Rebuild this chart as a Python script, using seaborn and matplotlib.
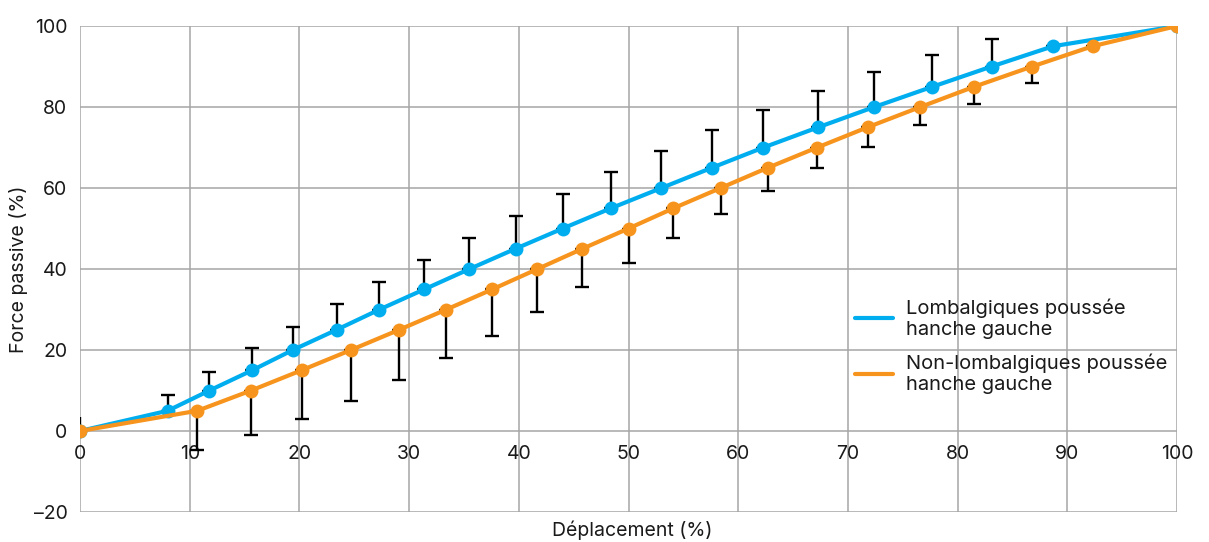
import numpy as np
import pandas as pd
import matplotlib
matplotlib.use("Agg")
import matplotlib.pyplot as plt
import seaborn as sns

# ---- data ----
x_lomb = [0, 8.0, 11.8, 15.7, 19.4, 23.4, 27.3, 31.4, 35.5, 39.7, 44.0, 48.4,
          53.0, 57.6, 62.3, 67.3, 72.4, 77.7, 83.1, 88.7, 100]
y_lomb = [0, 5, 10, 15, 20, 25, 30, 35, 40, 45, 50, 55, 60, 65, 70, 75, 80,
          85, 90, 95, 100]
top_lomb = [3.5, 9.0, 14.6, 20.5, 25.7, 31.3, 36.8, 42.2, 47.6, 53.1, 58.5,
            64.0, 69.1, 74.3, 79.3, 84.0, 88.6, 92.8, 96.8, np.nan, np.nan]

x_non = [0, 10.7, 15.6, 20.2, 24.7, 29.1, 33.4, 37.6, 41.7, 45.8, 50.0, 54.1,
         58.4, 62.7, 67.2, 71.8, 76.6, 81.5, 86.8, 92.3, 100]
y_non = [0, 5, 10, 15, 20, 25, 30, 35, 40, 45, 50, 55, 60, 65, 70, 75, 80,
         85, 90, 95, 100]
bot_non = [np.nan, -4.7, -1.0, 3.0, 7.4, 12.6, 18.0, 23.5, 29.4, 35.5, 41.5,
           47.6, 53.6, 59.3, 64.9, 70.2, 75.5, 80.7, 85.9, np.nan, np.nan]

labels = ["Lombalgiques poussée\nhanche gauche",
          "Non-lombalgiques poussée\nhanche gauche"]
x_ticks = [0, 10, 20, 30, 40, 50, 60, 70, 80, 90, 100]
y_ticks = [-20, 0, 20, 40, 60, 80, 100]
y_ticklabels = ["–20", "0", "20", "40", "60", "80", "100"]
x_label = "Déplacement (%)"
y_label = "Force passive (%)"

BLUE = "#00AEEF"
ORANGE = "#F7941D"
TXT = "#1a1a1a"

sns.set_theme(style="white")
plt.rcParams["font.family"] = ["Inter", "DejaVu Sans"]

df = pd.concat([
    pd.DataFrame({"x": x_lomb, "y": y_lomb, "g": labels[0]}),
    pd.DataFrame({"x": x_non, "y": y_non, "g": labels[1]}),
], ignore_index=True)

fig = plt.figure(figsize=(12.09, 5.42), dpi=100)
ax = fig.add_axes([80 / 1209, 1 - 512 / 542, (1177 - 80) / 1209, (512 - 26) / 542])

# error bars (blue upward, orange downward)
yl = np.array(y_lomb, dtype=float)
tl = np.array(top_lomb, dtype=float)
up = tl - yl
ax.errorbar(x_lomb[1:], y_lomb[1:], yerr=[np.zeros(len(up) - 1), up[1:]],
            fmt="none", ecolor="black", elinewidth=1.7, capsize=5,
            capthick=1.7, zorder=2)
ax.errorbar(x_lomb[:1], y_lomb[:1], yerr=[[0], up[:1]], fmt="none",
            ecolor="black", elinewidth=1.7, capsize=0, zorder=2)
yn = np.array(y_non, dtype=float)
bn = np.array(bot_non, dtype=float)
dn = yn - bn
ax.errorbar(x_non, y_non, yerr=[dn, np.zeros(len(dn))], fmt="none",
            ecolor="black", elinewidth=1.7, capsize=5, capthick=1.7, zorder=2)

sns.lineplot(data=df, x="x", y="y", hue="g", palette=[BLUE, ORANGE],
             marker="o", markersize=10, markeredgewidth=0, linewidth=3,
             sort=False, estimator=None, ax=ax, zorder=3)

ax.set_xlim(0, 100)
ax.set_ylim(-20, 100)
ax.set_xticks(x_ticks)
ax.set_yticks(y_ticks)
ax.set_yticklabels(y_ticklabels)
ax.grid(True, color="#a6a6a6", linewidth=1.1)
ax.set_axisbelow(True)
for s in ax.spines.values():
    s.set_visible(False)
ax.spines["bottom"].set_position(("data", 0))
ax.tick_params(axis="both", length=0, labelsize=14, colors=TXT)
ax.tick_params(axis="x", pad=10)
ax.tick_params(axis="y", pad=9)
ax.set_xlabel("")
ax.set_ylabel(y_label, fontsize=14, color=TXT, labelpad=4)
fig.text(632 / 1209, 1 - 530 / 542, x_label, ha="center", va="center",
         fontsize=14, color=TXT)

leg = ax.legend(loc="lower right", bbox_to_anchor=(1.0, 0.222), frameon=False,
                fontsize=14.5, handlelength=1.9, handletextpad=0.6,
                labelspacing=0.75, labelcolor=TXT, borderpad=0)
for h in leg.get_lines():
    h.set_marker("")
    h.set_linewidth(3)
    h.set_solid_capstyle("round")

fig.savefig("out.png", dpi=100)
